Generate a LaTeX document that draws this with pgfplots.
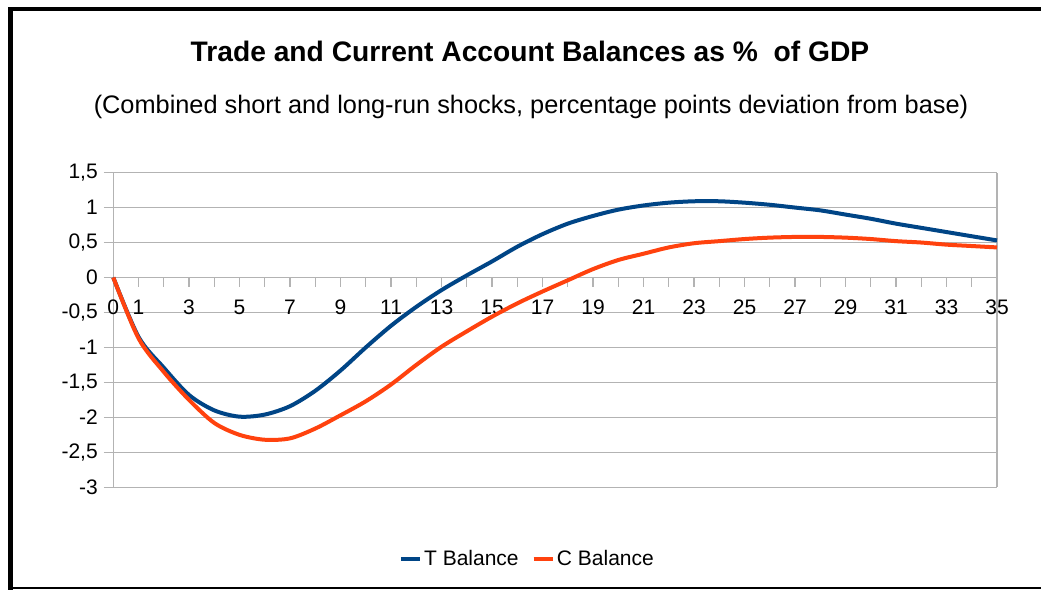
\documentclass[border=0pt]{standalone}
\usepackage{pgfplots}
\pgfplotsset{compat=1.18}
\usepackage{fontspec}
\setmainfont{Liberation Sans}
\definecolor{tbal}{HTML}{004586}
\definecolor{cbal}{HTML}{FF420E}
\definecolor{gridc}{HTML}{B3B3B3}

\pgfplotstableread{
t T C
0 0 0
1 -0.85 -0.87
2 -1.29 -1.35
3 -1.68 -1.75
4 -1.90 -2.08
5 -1.99 -2.25
6 -1.96 -2.32
7 -1.84 -2.30
8 -1.62 -2.16
9 -1.33 -1.97
10 -1.00 -1.77
11 -0.69 -1.53
12 -0.42 -1.25
13 -0.18 -0.99
14 0.03 -0.77
15 0.23 -0.56
16 0.44 -0.37
17 0.62 -0.20
18 0.77 -0.04
19 0.88 0.12
20 0.97 0.25
21 1.03 0.34
22 1.07 0.43
23 1.09 0.49
24 1.09 0.52
25 1.07 0.55
26 1.04 0.57
27 1.00 0.58
28 0.96 0.58
29 0.90 0.57
30 0.84 0.55
31 0.77 0.52
32 0.71 0.50
33 0.65 0.47
34 0.59 0.45
35 0.53 0.43
}\data

\begin{document}
\begin{tikzpicture}[x=1pt,y=1pt]
\useasboundingbox (0,0) rectangle (780.75,441.75);
\fill[white] (0,0) rectangle (780.75,441.75);
\draw[line width=3.4pt, line join=miter] (7.7,-5) -- (7.7,435) -- (800,435);
\draw[line width=1.6pt] (6,0.8) -- (800,0.8);
\node[anchor=base, font=\fontsize{21.15}{24}\selectfont\bfseries] at (397.5,395.5)
  {Trade and Current Account Balances as \%\ \ of GDP};
\node[anchor=base, font=\fontsize{19}{22}\selectfont] at (398.25,356.8)
  {(Combined short and long-run shocks, percentage points deviation from base)};
\begin{axis}[
  at={(84.975pt,76.275pt)}, anchor=south west,
  scale only axis, width=662.775pt, height=236.025pt,
  xmin=0, xmax=35, ymin=-3, ymax=1.5,
  axis x line*=middle, axis y line*=left,
  hide obscured x ticks=false, hide obscured y ticks=false,
  axis line style={gridc, line width=0.9pt},
  every tick/.style={gridc, line width=0.9pt},
  tick align=outside,
  major tick length=7pt, minor tick length=7pt,
  xtick={0,1,3,5,7,9,11,13,15,17,19,21,23,25,27,29,31,33,35},
  minor xtick={2,4,6,8,10,12,14,16,18,20,22,24,26,28,30,32,34},
  ytick={-3,-2.5,-2,-1.5,-1,-0.5,0,0.5,1,1.5},
  ymajorgrids,
  major grid style={gridc, line width=0.9pt},
  extra x ticks={35}, extra x tick labels={},
  extra x tick style={xmajorgrids=true, major tick length=0pt},
  /pgf/number format/assume math mode=true,
  /pgf/number format/use comma,
  ticklabel style={font=\fontsize{15.75}{18}\selectfont, inner sep=0pt},
  xticklabel style={yshift=-9.5pt},
  yticklabel style={xshift=-4.5pt},
  legend style={at={(0.4687,-0.228)}, anchor=center, draw=none, fill=none,
    font=\fontsize{15.75}{18}\selectfont, inner sep=0pt,
    nodes={inner sep=1.75pt},
    /tikz/every even column/.append style={column sep=8pt}},
  legend columns=2,
  legend image code/.code={\draw[#1, line width=3pt] (0pt,0pt) -- (14.25pt,0pt);},
  clip=false,
]
\addplot[tbal, line width=3pt, smooth] table[x=t, y=T] {\data};
\addlegendentry{T Balance}
\addplot[cbal, line width=3pt, smooth] table[x=t, y=C] {\data};
\addlegendentry{C Balance}
\end{axis}
\end{tikzpicture}
\end{document}
